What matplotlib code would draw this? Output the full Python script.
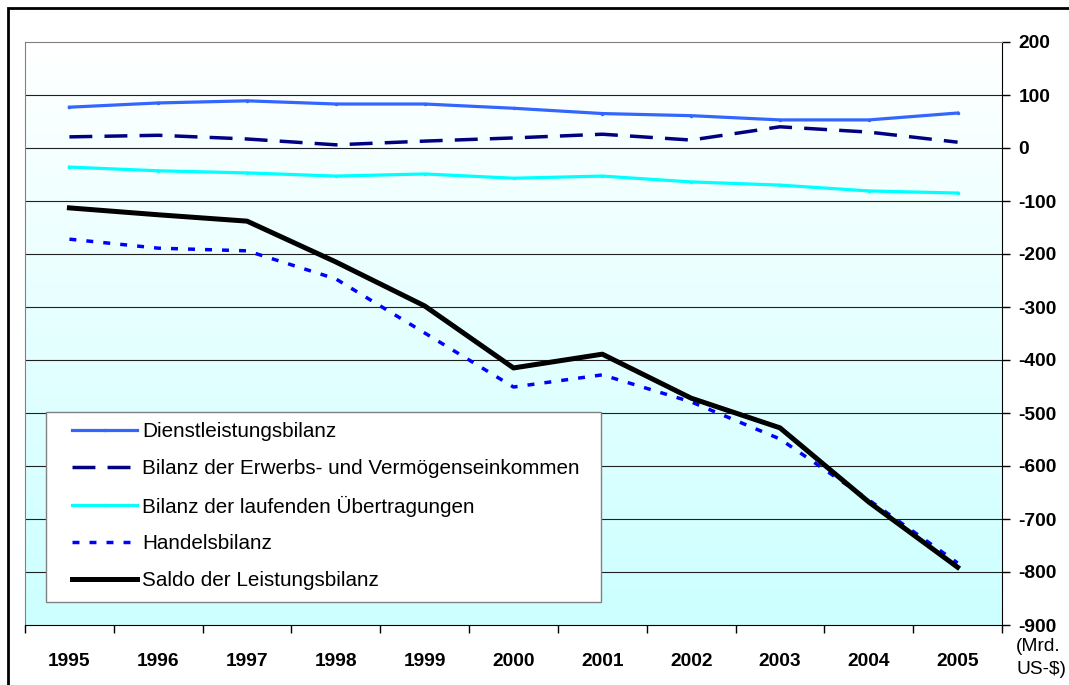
import matplotlib.pyplot as plt
import numpy as np
from matplotlib.patches import Rectangle

plt.rcParams['font.family'] = ['Liberation Sans', 'DejaVu Sans']

years = ['1995', '1996', '1997', '1998', '1999', '2000', '2001', '2002', '2003', '2004', '2005']
dienst = [77, 85, 89, 83, 83, 75, 65, 61, 53, 53, 66]
erwerbs = [21, 24, 17, 6, 13, 19, 26, 15, 40, 30, 11]
uebertrag = [-36, -43, -47, -53, -49, -57, -53, -64, -70, -81, -85]
handel = [-172, -189, -194, -247, -349, -451, -428, -479, -549, -664, -783]
saldo = [-113, -126, -138, -215, -298, -415, -389, -472, -528, -668, -791]

labels = ['Dienstleistungsbilanz',
          'Bilanz der Erwerbs- und Vermögenseinkommen',
          'Bilanz der laufenden Übertragungen',
          'Handelsbilanz',
          'Saldo der Leistungsbilanz']

fig = plt.figure(figsize=(10.69, 6.85), dpi=100)
ax = fig.add_axes([25/1069, 1 - 625/685, 977/1069, 583/685])

x = np.arange(len(years))
ax.set_xlim(-0.5, len(years) - 0.5)
ax.set_ylim(-900, 200)

# background gradient white -> light cyan
grad = np.linspace(0, 1, 256).reshape(-1, 1)
c_top = np.array([1.0, 1.0, 1.0])
c_bot = np.array([0.8, 1.0, 1.0])
img = c_top + (c_bot - c_top) * grad[:, :, None]
ax.imshow(img, extent=(-0.5, len(years) - 0.5, -900, 200), aspect='auto', zorder=0)

for v in range(-800, 101, 100):
    ax.axhline(v, color='#202020', lw=0.8, zorder=1)

ax.plot(x, dienst, color='#3366ff', lw=2.3, marker='.', ms=3, zorder=3, label=labels[0])
ax.plot(x, erwerbs, color='#000080', lw=2.5, dashes=(6.6, 3.5), zorder=3, label=labels[1])
ax.plot(x, uebertrag, color='#00ffff', lw=2.3, marker='.', ms=3, zorder=3, label=labels[2])
ax.plot(x, handel, color='#0000ff', lw=2.5, dashes=(2, 2.9), zorder=3, label=labels[3])
ax.plot(x, saldo, color='#000000', lw=3.6, zorder=4, label=labels[4])

ax.yaxis.tick_right()
ax.set_yticks(range(-900, 201, 100))
ax.set_yticklabels([str(v) for v in range(-900, 201, 100)], fontsize=13.8, fontweight='bold')
ax.set_xticks(x)
ax.set_xticklabels(years, fontsize=13.8, fontweight='bold')
ax.set_xticks(np.arange(-0.5, len(years) + 0.5, 1), minor=True)
ax.tick_params(axis='x', which='major', length=0, pad=20)
ax.tick_params(axis='x', which='minor', length=6, width=1)
ax.tick_params(axis='y', length=6, width=1, pad=6, right=True, left=False)

for s in ['left', 'top']:
    ax.spines[s].set_color('#808080')
ax.spines['right'].set_color('#000000')
ax.spines['bottom'].set_color('#000000')

# legend box drawn separately so the inner padding matches
box = Rectangle((21/977, (625 - 602)/583), (601 - 46)/977, (602 - 412)/583,
                transform=ax.transAxes, facecolor='white', edgecolor='#808080',
                lw=1, zorder=5)
ax.add_patch(box)
leg = ax.legend(loc='upper left', bbox_to_anchor=((72 - 25)/977, (625 - 422)/583),
                fontsize=14.9, frameon=False, handlelength=3.15, handletextpad=0.25,
                labelspacing=0.86, borderpad=0, borderaxespad=0)
leg.set_zorder(6)

fig.text(1016/1069, 1 - 658/685, '(Mrd.\nUS-$)', fontsize=13.8, va='center', ha='left',
         linespacing=1.45)

fig.patches.append(Rectangle((8/1069, -0.05), 1.1, 1 - 8/685 + 0.05, transform=fig.transFigure,
                             fill=False, edgecolor='black', lw=2))

fig.savefig('out.png', dpi=100)
